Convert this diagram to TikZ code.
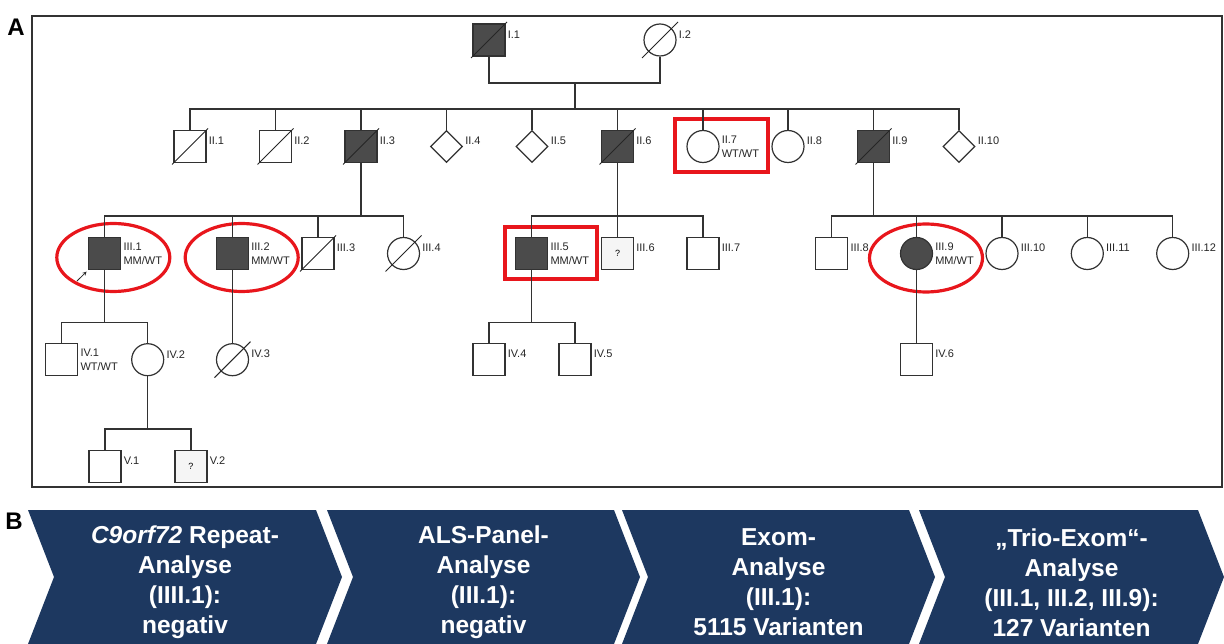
\documentclass[tikz,border=0pt]{standalone}
\usepackage{fontspec}
\setmainfont{Liberation Sans}
\usepackage{tikz}
\usetikzlibrary{shapes.geometric,calc,arrows}
\definecolor{linegray}{RGB}{50,50,50}
\definecolor{affgray}{RGB}{75,75,75}
\definecolor{markred}{RGB}{232,22,28}
\definecolor{stagenavy}{RGB}{29,56,96}

\begin{document}
\begin{tikzpicture}[
    x=1pt, y=-1pt,
    person/.style={draw=linegray, line width=1.2pt, fill=white, inner sep=0pt, minimum size=32pt},
    male/.style={person, rectangle},
    female/.style={person, circle},
    sexunknown/.style={person, diamond},
    affected/.style={fill=affgray},
    unclear/.style={fill=gray!8, font=\fontsize{9}{9}\selectfont},
    lbl/.style={font=\fontsize{11}{13}\selectfont, text=black!85, inner sep=2pt, yshift=5.5pt},
    lbltwo/.style={font=\fontsize{11}{14}\selectfont, text=black!85, inner sep=2pt, align=left},
    link/.style={draw=linegray, line width=1.3pt},
    slash/.style={draw=black!85, line width=1pt},
    ring/.style={draw=markred, line width=3.2pt, ellipse, minimum width=113pt, minimum height=68pt},
    redbox/.style={draw=markred, line width=3.5pt, rectangle},
    stage/.style={text=white, font=\bfseries\fontsize{24.5}{30}\selectfont, align=center},
    panel/.style={font=\bfseries\fontsize{24}{24}\selectfont},
    arrow/.style={->, >=stealth, line width=0.8pt}
]
\useasboundingbox (0,0) rectangle (1224,644);

% Panel A frame
\node[panel] (labelA) at (16,27) {A};
\draw[link, line width=1.4pt] (32,16) rectangle (1222,487);

% Marked individuals (behind)
\node[redbox, minimum width=93pt, minimum height=53pt] (boxII7) at (721.5,145.5) {};
\node[redbox, minimum width=92pt, minimum height=52pt] (boxIII5) at (551,253) {};
\node[ring] (ringIII1) at (113.3,257.5) {};
\node[ring] (ringIII2) at (241.7,257.5) {};
\node[ring] (ringIII9) at (926,258) {};

% Generation I
\node[male, affected, label={[lbl]right:I.1}] (I1) at (489,40) {};
\node[female, label={[lbl]right:I.2}] (I2) at (660,40) {};

% Generation II
\node[male, label={[lbl]right:II.1}] (II1) at (190,146.5) {};
\node[male, label={[lbl]right:II.2}] (II2) at (275.5,146.5) {};
\node[male, affected, label={[lbl]right:II.3}] (II3) at (361,146.5) {};
\node[sexunknown, label={[lbl]right:II.4}] (II4) at (446.5,146.5) {};
\node[sexunknown, label={[lbl]right:II.5}] (II5) at (532,146.5) {};
\node[male, affected, label={[lbl]right:II.6}] (II6) at (617.5,146.5) {};
\node[female, label={[lbltwo]right:{II.7\\WT/WT}}] (II7) at (703,146.5) {};
\node[female, label={[lbl]right:II.8}] (II8) at (788,146.5) {};
\node[male, affected, label={[lbl]right:II.9}] (II9) at (873.5,146.5) {};
\node[sexunknown, label={[lbl]right:II.10}] (II10) at (959,146.5) {};

% Generation III
\node[male, affected, label={[lbltwo]right:{III.1\\MM/WT}}] (III1) at (104.7,253.5) {};
\node[male, affected, label={[lbltwo]right:{III.2\\MM/WT}}] (III2) at (232.5,253.5) {};
\node[male, label={[lbl]right:III.3}] (III3) at (318,253.5) {};
\node[female, label={[lbl]right:III.4}] (III4) at (403.5,253.5) {};
\node[male, affected, label={[lbltwo]right:{III.5\\MM/WT}}] (III5) at (531.7,253.5) {};
\node[male, unclear, label={[lbl]right:III.6}] (III6) at (617.5,253.5) {?};
\node[male, label={[lbl]right:III.7}] (III7) at (703,253.5) {};
\node[male, label={[lbl]right:III.8}] (III8) at (831.7,253.5) {};
\node[female, affected, label={[lbltwo]right:{III.9\\MM/WT}}] (III9) at (916.5,253.5) {};
\node[female, label={[lbl]right:III.10}] (III10) at (1002,253.5) {};
\node[female, label={[lbl]right:III.11}] (III11) at (1087.3,253.5) {};
\node[female, label={[lbl]right:III.12}] (III12) at (1172.7,253.5) {};

% Generation IV
\node[male, label={[lbltwo]right:{IV.1\\WT/WT}}] (IV1) at (61.7,359.7) {};
\node[female, label={[lbl]right:IV.2}] (IV2) at (147.7,359.7) {};
\node[female, label={[lbl]right:IV.3}] (IV3) at (232.5,359.7) {};
\node[male, label={[lbl]right:IV.4}] (IV4) at (489,359.7) {};
\node[male, label={[lbl]right:IV.5}] (IV5) at (575,359.7) {};
\node[male, label={[lbl]right:IV.6}] (IV6) at (916.5,359.7) {};

% Generation V
\node[male, label={[lbl]right:V.1}] (V1) at (105,466.5) {};
\node[male, unclear, label={[lbl]right:V.2}] (V2) at (191,466.5) {?};

% Lines of descent
\coordinate (mI) at (575,83);
\coordinate (sII) at (575,109);
\draw[link] (I1.south) |- (mI) -| (I2.south);
\draw[link] (mI) -- (sII);
\draw[link] (II1.north) |- (sII) -| (II10.north);
\foreach \n in {II2,II3,II4,II5,II6,II7,II8,II9}
    \draw[link] (\n.north) -- (\n.north |- sII);

\coordinate (sIIIa) at (361,216);
\draw[link] (II3.south) -- (sIIIa);
\draw[link] (III1.north) |- (sIIIa) -| (III4.north);
\foreach \n in {III2,III3}
    \draw[link] (\n.north) -- (\n.north |- sIIIa);

\coordinate (sIIIb) at (617.5,216);
\draw[link] (II6.south) -- (sIIIb);
\draw[link] (III5.north) |- (sIIIb) -| (III7.north);
\draw[link] (III6.north) -- (sIIIb);

\coordinate (sIIIc) at (873.5,216);
\draw[link] (II9.south) -- (sIIIc);
\draw[link] (III8.north) |- (sIIIc) -| (III12.north);
\foreach \n in {III9,III10,III11}
    \draw[link] (\n.north) -- (\n.north |- sIIIc);

\coordinate (sIVa) at (104.7,322.7);
\draw[link] (III1.south) -- (sIVa);
\draw[link] (IV1.north) |- (sIVa) -| (IV2.north);
\draw[link] (III2.south) -- (IV3.north);

\coordinate (sIVb) at (531.7,322.7);
\draw[link] (III5.south) -- (sIVb);
\draw[link] (IV4.north) |- (sIVb) -| (IV5.north);
\draw[link] (III9.south) -- (IV6.north);

\coordinate (sV) at (147.7,429);
\draw[link] (IV2.south) -- (sV);
\draw[link] (V1.north) |- (sV) -| (V2.north);

% Deceased
\foreach \n in {I1,I2,II1,II2,II3,II6,II9,III3,III4,IV3}
    \draw[slash] ($(\n)+(-18,18)$) -- ($(\n)+(18,-18)$);

% Proband
\coordinate (pbtail) at (77,281);
\draw[arrow, black!85] (pbtail) -- ($(III1.south west)+(-1.5,1.5)$);

% Panel B: analysis steps
\node[panel] (labelB) at (14,521) {B};
\foreach \l/\r in {28/316, 327/614, 622/909, 919/1198}
    \fill[stagenavy] (\l,510) -- (\r,510) -- (\r+26,577) -- (\r,644) -- (\l,644) -- (\l+26,577) -- cycle;

\node[stage] (stage1) at (185,582.5) {\textit{C9orf72} Repeat-\\Analyse\\(IIII.1):\\negativ};
\node[stage] (stage2) at (483.5,582.5) {ALS-Panel-\\Analyse\\(III.1):\\negativ};
\node[stage] (stage3) at (778.5,582.5) {Exom-\\Analyse\\(III.1):\\5115 Varianten};
\node[stage] (stage4) at (1071.5,582.5) {„Trio-Exom“-\\Analyse\\(III.1, III.2, III.9):\\127 Varianten};

\end{tikzpicture}
\end{document}
